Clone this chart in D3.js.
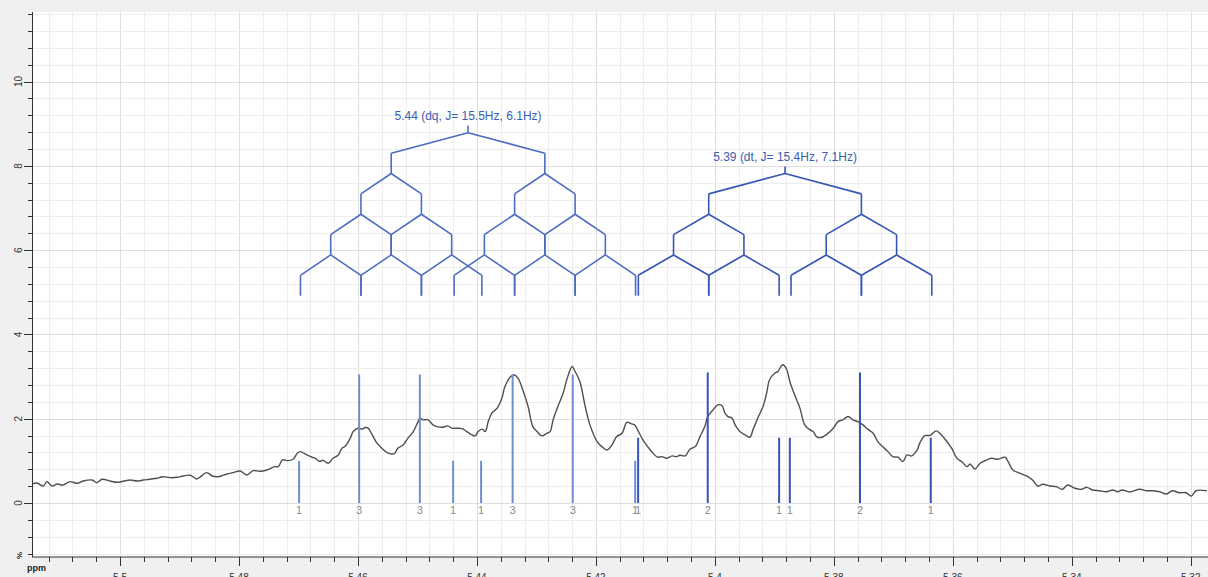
<!DOCTYPE html>
<html><head><meta charset="utf-8">
<script src="https://cdn.jsdelivr.net/npm/d3@7"></script>
<style>body{margin:0;background:#fff;} svg{display:block;font-family:"Liberation Sans",Arial,sans-serif;}</style>
</head><body><svg id="c" width="1208" height="577"></svg>
<script>
// ---- data ----
const specPpm = [5.5151,5.5140,5.5129,5.5123,5.5114,5.5106,5.5096,5.5084,5.5072,5.5062,
5.5047,5.5039,5.5030,5.5017,5.5005,5.4995,5.4983,5.4971,5.4961,5.4950,
5.4938,5.4929,5.4916,5.4904,5.4894,5.4882,5.4871,5.4866,5.4854,5.4845,
5.4835,5.4820,5.4810,5.4798,5.4787,5.4776,5.4765,5.4753,5.4740,5.4734,
5.4727,5.4719,5.4709,5.4702,5.4697,5.4686,5.4677,5.4672,5.4664,5.4659,
5.4650,5.4642,5.4633,5.4627,5.4622,5.4613,5.4608,5.4600,5.4593,5.4588,
5.4583,5.4576,5.4568,5.4560,5.4551,5.4543,5.4538,5.4533,5.4524,5.4516,
5.4507,5.4499,5.4496,5.4491,5.4482,5.4474,5.4467,5.4457,5.4449,5.4442,
5.4433,5.4425,5.4417,5.4403,5.4398,5.4391,5.4386,5.4381,5.4375,5.4366,
5.4358,5.4353,5.4344,5.4338,5.4331,5.4323,5.4314,5.4306,5.4299,5.4291,
5.4282,5.4277,5.4272,5.4264,5.4255,5.4249,5.4240,5.4235,5.4227,5.4218,
5.4210,5.4198,5.4190,5.4181,5.4173,5.4165,5.4156,5.4148,5.4140,5.4135,
5.4130,5.4121,5.4113,5.4104,5.4096,5.4089,5.4081,5.4072,5.4064,5.4059,
5.4050,5.4042,5.4033,5.4025,5.4017,5.4012,5.4003,5.3995,5.3988,5.3983,
5.3978,5.3971,5.3966,5.3958,5.3949,5.3941,5.3936,5.3928,5.3919,5.3913,
5.3908,5.3899,5.3894,5.3886,5.3879,5.3874,5.3866,5.3857,5.3849,5.3840,
5.3835,5.3828,5.3820,5.3811,5.3801,5.3793,5.3785,5.3776,5.3768,5.3760,
5.3751,5.3743,5.3734,5.3726,5.3718,5.3709,5.3701,5.3692,5.3684,5.3677,
5.3669,5.3660,5.3655,5.3647,5.3638,5.3628,5.3622,5.3613,5.3602,5.3593,
5.3585,5.3576,5.3571,5.3563,5.3554,5.3543,5.3535,5.3524,5.3512,5.3507,
5.3499,5.3487,5.3476,5.3466,5.3457,5.3449,5.3437,5.3426,5.3416,5.3407,
5.3395,5.3384,5.3375,5.3365,5.3354,5.3342,5.3331,5.3323,5.3315,5.3303,
5.3286,5.3274,5.3264,5.3252,5.3241,5.3231,5.3219,5.3208,5.3199,5.3191,
5.3173];
const specInt = [0.428,0.476,0.404,0.507,0.404,0.452,0.428,0.507,0.468,0.523,
0.547,0.483,0.564,0.523,0.492,0.516,0.547,0.523,0.547,0.564,
0.587,0.625,0.602,0.611,0.642,0.659,0.571,0.611,0.721,0.642,
0.625,0.690,0.721,0.761,0.666,0.768,0.754,0.785,0.863,0.863,
1.023,1.006,1.039,1.182,1.220,1.141,1.087,1.063,0.987,1.015,
0.944,1.063,1.141,1.301,1.339,1.539,1.696,1.776,1.753,1.791,
1.776,1.617,1.420,1.301,1.196,1.165,1.182,1.301,1.379,1.539,
1.696,1.933,2.014,1.974,1.974,1.855,1.814,1.800,1.831,1.776,
1.776,1.767,1.696,1.593,1.696,1.753,1.696,1.933,2.133,2.252,
2.490,2.766,2.989,3.044,2.965,2.687,2.290,1.814,1.696,1.593,
1.657,1.696,1.974,2.290,2.609,2.925,3.241,3.122,2.885,2.290,
1.855,1.458,1.339,1.260,1.379,1.577,1.657,1.914,1.879,1.855,
1.736,1.498,1.339,1.182,1.087,1.101,1.063,1.118,1.101,1.134,
1.118,1.277,1.339,1.577,1.814,2.052,2.212,2.330,2.307,2.133,
2.052,2.014,1.855,1.696,1.617,1.562,1.736,2.014,2.290,2.609,
2.925,3.084,3.122,3.282,3.163,2.885,2.568,2.252,1.855,1.736,
1.696,1.562,1.562,1.641,1.776,1.933,1.974,2.052,1.974,1.933,
1.855,1.753,1.657,1.458,1.339,1.220,1.101,1.087,0.982,1.141,
1.118,1.260,1.439,1.598,1.605,1.712,1.657,1.515,1.301,1.063,
0.982,0.863,0.927,0.809,0.944,1.023,1.063,1.039,1.087,0.982,
0.785,0.706,0.642,0.547,0.404,0.445,0.404,0.388,0.326,0.428,
0.350,0.326,0.373,0.309,0.292,0.269,0.309,0.269,0.309,0.262,
0.326,0.292,0.292,0.269,0.214,0.292,0.245,0.245,0.166,0.292,
0.292];

const stickPpm    = [5.4699,5.4598,5.4496,5.4393,5.4440,5.4340,5.4239,5.4134, 5.4129,5.4012,5.3892,5.3874,5.3756,5.3637];
const stickHeight = [1.0,3.05,3.05,1.0,1.0,3.05,3.05,1.0, 1.55,3.1,1.55,1.55,3.1,1.55];
const stickLabel  = ["1","3","3","1","1","3","3","1","1","2","1","1","2","1"];
const stickMult   = [0,0,0,0,0,0,0,0,1,1,1,1,1,1];

const multLabel  = ["5.44 (dq, J= 15.5Hz, 6.1Hz)", "5.39 (dt, J= 15.4Hz, 7.1Hz)"];
const multCenter = [5.4415, 5.3882];
const multJ1     = [15.5, 15.4];
const multJ2     = [6.1, 7.1];
const multJ2Splits = [3, 2];   // quartet = 3 doublet splittings, triplet = 2
const specFreqMHz = 600;

const xMajorTicks = [5.5,5.48,5.46,5.44,5.42,5.4,5.38,5.36,5.34,5.32];
const yMajorTicks = [0,2,4,6,8,10];

// ---- layout ----
const W = 1208, H = 577;
const L = 32, R = 1208, T = 12, B = 557;
const x = d3.scaleLinear().domain([5.5148, 5.3171]).range([L, R]);
const y = d3.scaleLinear().domain([-1.28, 11.65]).range([B, T]);

const xMinor = d3.range(5.512, 5.3175, -0.004).map(v => +v.toFixed(3));
const yMinor = d3.range(-1.2, 11.65, 0.4).map(v => +v.toFixed(1));

const svg = d3.select("#c");
svg.append("rect").attr("width", W).attr("height", H).attr("fill", "#f0f0f0");
svg.append("rect").attr("x", L).attr("y", T).attr("width", R - L).attr("height", B - T).attr("fill", "#fff");

svg.append("defs").append("clipPath").attr("id", "clip")
  .append("rect").attr("x", L).attr("y", T).attr("width", R - L).attr("height", B - T);

// grid
const grid = svg.append("g").attr("clip-path", "url(#clip)");
const isMajX = v => xMajorTicks.some(m => Math.abs(m - v) < 1e-6);
const isMajY = v => Math.abs(v / 2 - Math.round(v / 2)) < 1e-6;
grid.selectAll("line.gx").data(xMinor).join("line")
  .attr("x1", d => Math.round(x(d)) + 0.5).attr("x2", d => Math.round(x(d)) + 0.5)
  .attr("y1", T).attr("y2", B)
  .attr("stroke", d => isMajX(d) ? "#dedede" : "#ededed").attr("stroke-width", 1);
grid.selectAll("line.gy").data(yMinor).join("line")
  .attr("y1", d => Math.round(y(d)) + 0.5).attr("y2", d => Math.round(y(d)) + 0.5)
  .attr("x1", L).attr("x2", R)
  .attr("stroke", d => isMajY(d) ? "#dedede" : "#ededed").attr("stroke-width", 1);

// spectrum
const specData = d3.zip(specPpm, specInt);
grid.append("path").datum(specData)
  .attr("fill", "none").attr("stroke", "#4f4f4f").attr("stroke-width", 1.4)
  .attr("d", d3.line().x(d => x(d[0])).y(d => y(d[1])).curve(d3.curveCatmullRom.alpha(0.5)));

// sticks
const stickColor = ["#6d8dd6", "#3656b5"];
const sticks = d3.range(stickPpm.length);
grid.selectAll("line.stick").data(sticks).join("line")
  .attr("x1", i => x(stickPpm[i])).attr("x2", i => x(stickPpm[i]))
  .attr("y1", y(0)).attr("y2", i => y(stickHeight[i]))
  .attr("stroke", i => stickColor[stickMult[i]]).attr("stroke-width", 2);
svg.selectAll("text.sl").data(sticks).join("text")
  .attr("x", i => x(stickPpm[i])).attr("y", y(0) + 11)
  .attr("text-anchor", "middle").attr("font-size", 11).attr("fill", "#8c8c8c")
  .text(i => stickLabel[i]);

// multiplet trees
const treeColor = ["#4b6cc2", "#3556b5"];
const levelPx = y(0) - y(0.966);
const treeBottom = y(4.92);
multCenter.forEach((c, i) => {
  const g = svg.append("g").attr("stroke", treeColor[i]).attr("stroke-width", 1.6).attr("fill", "none");
  const nLevels = 1 + multJ2Splits[i];
  const top = treeBottom - nLevels * levelPx;
  g.append("line").attr("x1", x(c)).attr("x2", x(c)).attr("y1", top - 7).attr("y2", top);
  let nodes = [c];
  for (let lv = 0; lv < nLevels; lv++) {
    const half = (lv === 0 ? multJ1[i] : multJ2[i]) / 2 / specFreqMHz;
    const y0 = top + lv * levelPx, y1 = y0 + levelPx / 2, y2 = y0 + levelPx;
    const next = [];
    nodes.forEach(n => {
      [n + half, n - half].forEach(ch => {
        g.append("line").attr("x1", x(n)).attr("y1", y0).attr("x2", x(ch)).attr("y2", y1);
        g.append("line").attr("x1", x(ch)).attr("y1", y1).attr("x2", x(ch)).attr("y2", y2);
        if (!next.some(q => Math.abs(q - ch) < 1e-6)) next.push(ch);
      });
    });
    nodes = next;
  }
  svg.append("text").attr("x", x(c)).attr("y", top - 12.5)
    .attr("text-anchor", "middle").attr("font-size", 12).attr("fill", "#3a5db3")
    .text(multLabel[i]);
});

// x axis
const axX = svg.append("g").attr("transform", `translate(0,${B})`);
axX.append("line").attr("x1", L).attr("x2", R).attr("stroke", "#333");
axX.selectAll("line.t").data(xMinor).join("line")
  .attr("x1", d => Math.round(x(d)) + 0.5).attr("x2", d => Math.round(x(d)) + 0.5)
  .attr("y1", 0).attr("y2", d => isMajX(d) ? 9 : 5).attr("stroke", "#333");
axX.selectAll("text").data(xMajorTicks).join("text")
  .attr("x", d => x(d)).attr("y", 23.5).attr("text-anchor", "middle")
  .attr("font-size", 10).attr("fill", "#333").text(d => d3.format("")(d));

// y axis
const axY = svg.append("g");
axY.append("line").attr("x1", L + 0.5).attr("x2", L + 0.5).attr("y1", T).attr("y2", B).attr("stroke", "#333");
axY.selectAll("line.t").data(yMinor).join("line")
  .attr("y1", d => Math.round(y(d)) + 0.5).attr("y2", d => Math.round(y(d)) + 0.5)
  .attr("x1", L).attr("x2", d => isMajY(d) ? L - 8 : L - 4).attr("stroke", "#333");
axY.selectAll("text").data(yMajorTicks).join("text")
  .attr("transform", d => `translate(22,${y(d)}) rotate(-90)`)
  .attr("text-anchor", "middle").attr("font-size", 10).attr("fill", "#333").text(d => d);

svg.append("text").attr("x", 27).attr("y", 571).attr("font-size", 9).attr("font-weight", "bold")
  .attr("fill", "#222").text("ppm");
svg.append("text").attr("transform", "translate(22,559) rotate(-90)").attr("font-size", 8)
  .attr("font-weight", "bold").attr("fill", "#222").text("%");
</script></body></html>
